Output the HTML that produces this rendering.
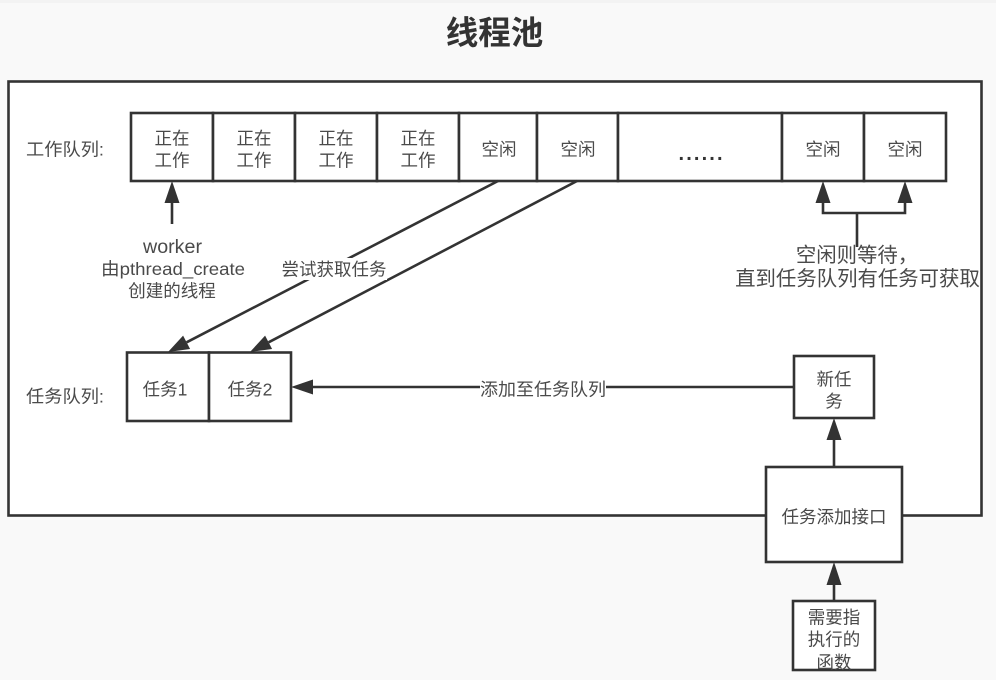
<!DOCTYPE html>
<html lang="zh">
<head>
<meta charset="utf-8">
<title>线程池</title>
<style>
html,body{margin:0;padding:0;width:996px;height:680px;overflow:hidden;background:#f9f9f9}
svg{display:block;filter:blur(0.35px)}
text{font-family:"Liberation Sans","Noto Sans CJK SC",sans-serif;font-size:17.5px;fill:#4a4a4a;text-anchor:middle}
.b{fill:#fff;stroke:#333;stroke-width:2.6}
.l{fill:none;stroke:#333;stroke-width:2.6}
.a{fill:#333}
</style>
</head>
<body>
<svg width="996" height="680" viewBox="0 0 996 680" xmlns="http://www.w3.org/2000/svg">
<rect x="0" y="0" width="996" height="3" fill="#f3f3f3"/>
<text x="494.500" y="44" style="font-size:32.500px;font-weight:700;fill:#333">线程池</text>
<rect class="b" x="8.500" y="81.500" width="973" height="434"/>

<!-- worker queue -->
<rect class="b" x="131" y="113" width="82" height="68"/>
<rect class="b" x="213" y="113" width="82" height="68"/>
<rect class="b" x="295" y="113" width="82" height="68"/>
<rect class="b" x="377" y="113" width="82" height="68"/>
<rect class="b" x="459" y="113" width="78" height="68"/>
<rect class="b" x="537" y="113" width="81" height="68"/>
<rect class="b" x="618" y="113" width="164" height="68"/>
<rect class="b" x="782" y="113" width="82" height="68"/>
<rect class="b" x="864" y="113" width="82" height="68"/>

<text x="65" y="155.500" textLength="78" lengthAdjust="spacingAndGlyphs">工作队列:</text>
<text x="172" y="144.500">正在</text><text x="172" y="166.500">工作</text>
<text x="254" y="144.500">正在</text><text x="254" y="166.500">工作</text>
<text x="336" y="144.500">正在</text><text x="336" y="166.500">工作</text>
<text x="418" y="144.500">正在</text><text x="418" y="166.500">工作</text>
<text x="499" y="155.500">空闲</text>
<text x="578" y="155.500">空闲</text>
<text x="700.500" y="160" textLength="44" style="font-size:20px;font-weight:700;fill:#333">......</text>
<text x="823" y="155.500">空闲</text>
<text x="905" y="155.500">空闲</text>

<!-- worker arrow -->
<path class="l" d="M172 224V200"/>
<path class="a" d="M172 181L179.500 203H164.500Z"/>
<text x="172.500" y="253" textLength="59" lengthAdjust="spacingAndGlyphs" style="font-size:19px">worker</text>
<text x="173" y="275" textLength="144" lengthAdjust="spacingAndGlyphs">由pthread_create</text>
<text x="172" y="297">创建的线程</text>

<!-- idle arrows -->
<path class="l" d="M823 200V213H905V200M857 213V247"/>
<path class="a" d="M823 181L830.500 203H815.500Z"/>
<path class="a" d="M905 181L912.500 203H897.500Z"/>
<text x="857" y="262" style="font-size:20.400px">空闲则等待，</text>
<text x="857.500" y="285.500" style="font-size:20.400px">直到任务队列有任务可获取</text>

<!-- diagonal arrows -->
<path class="l" d="M498 181L186.600 342.300"/>
<path class="l" d="M577 181L268.600 342.300"/>
<path class="a" d="M168 352L183.100 335.600L190.100 349Z"/>
<path class="a" d="M250 352L265.100 335.600L272.100 349Z"/>
<rect x="281" y="258" width="106" height="22" fill="#fff"/>
<text x="334" y="275.500">尝试获取任务</text>

<!-- task queue -->
<rect class="b" x="127" y="352.500" width="82" height="68.500"/>
<rect class="b" x="209" y="352.500" width="82" height="68.500"/>
<text x="65" y="402.500" textLength="78" lengthAdjust="spacingAndGlyphs">任务队列:</text>
<text x="165" y="395.500">任务1</text>
<text x="250" y="395.500">任务2</text>

<!-- new task -->
<path class="l" d="M310 387H794"/>
<path class="a" d="M291 387L313 379.500V394.500Z"/>
<rect x="480" y="378" width="126" height="22" fill="#fff"/>
<text x="543" y="395.500" textLength="126" lengthAdjust="spacingAndGlyphs">添加至任务队列</text>
<rect class="b" x="794" y="356" width="80" height="62"/>
<text x="834" y="385.500">新任</text>
<text x="834" y="407.500">务</text>

<path class="l" d="M834 467V436"/>
<path class="a" d="M834 418L841.500 440H826.500Z"/>

<rect class="b" x="766" y="467" width="136" height="95"/>
<text x="834" y="523">任务添加接口</text>

<path class="l" d="M834 601V580"/>
<path class="a" d="M834 562L841.500 585H826.500Z"/>
<rect class="b" x="793" y="601" width="82" height="69"/>
<text x="834" y="623.500">需要指</text>
<text x="834" y="645.500">执行的</text>
<text x="834" y="668.500">函数</text>
</svg>
</body>
</html>
